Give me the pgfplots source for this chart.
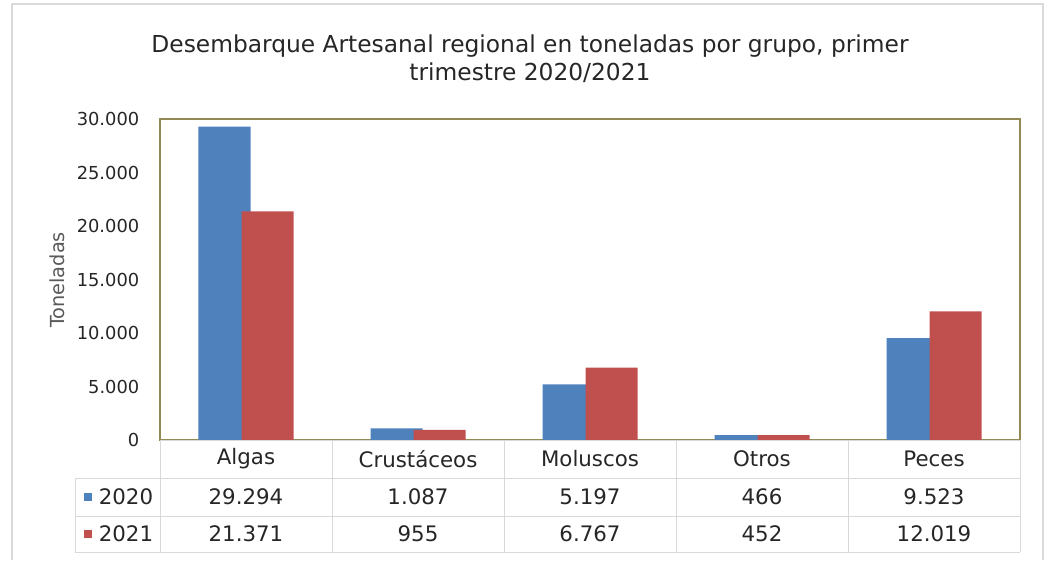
\documentclass[border=0pt]{standalone}
\usepackage{pgfplots}
\pgfplotsset{compat=1.18}
\usepackage{fontspec}
\setmainfont{DejaVu Sans}
\definecolor{c2020}{HTML}{4F81BD}
\definecolor{c2021}{HTML}{C0504D}
\definecolor{frameol}{HTML}{938953}
\definecolor{gridg}{HTML}{D9D9D9}
\definecolor{txt}{HTML}{262626}
\definecolor{lab}{HTML}{595959}

\begin{document}
\begin{tikzpicture}[x=0.75pt,y=0.75pt]
\begin{axis}[
  at={(0,0)}, anchor=south west,
  scale only axis, width=645pt, height=240.75pt,
  ybar=-6.75pt, bar width=39pt,
  xmin=-0.5, xmax=4.5, ymin=0, ymax=30000,
  xtick=\empty,
  ytick={0,5000,...,30000},
  scaled y ticks=false,
  /pgf/number format/assume math mode=true,
  yticklabel style={/pgf/number format/1000 sep={.}, font=\fontsize{13.4}{16}\selectfont, text=txt, xshift=-12pt},
  major tick length=0pt,
  axis line style={frameol, line width=1pt},
]
\addplot[fill=c2020, draw=none] coordinates {(0,29294) (1,1087) (2,5197) (3,466) (4,9523)};
\addplot[fill=c2021, draw=none] coordinates {(0,21371) (1,955) (2,6767) (3,452) (4,12019)};
\end{axis}
% data table under the plot
\draw[gridg] (0,0) -- (860,0);
\foreach \x in {0,172,344,516,688,860} \draw[gridg] (\x,0) -- (\x,-112);
\draw[gridg] (-85,-38) -- (-85,-112);
\foreach \y in {-38,-76,-112} \draw[gridg] (-85,\y) -- (860,\y);
\begin{scope}[every node/.style={font=\fontsize{16}{19}\selectfont, text=txt}]
\foreach \n [count=\i from 0] in {Algas,Crustáceos,Moluscos,Otros,Peces}
  \node at (86+172*\i,-19) {\n};
\foreach \n [count=\i from 0] in {29.294,1.087,5.197,466,9.523}
  \node at (86+172*\i,-57) {\n};
\foreach \n [count=\i from 0] in {21.371,955,6.767,452,12.019}
  \node at (86+172*\i,-94) {\n};
\node at (-34,-57) {2020};
\node at (-34,-94) {2021};
\end{scope}
\fill[c2020] (-76,-61) rectangle (-68,-53);
\fill[c2021] (-76,-98) rectangle (-68,-90);
% title and axis label
\node[align=center, font=\fontsize{17.5}{21}\selectfont, text=txt] at (370,381)
  {Desembarque Artesanal regional en toneladas por grupo, primer\\trimestre 2020/2021};
\node[rotate=90, font=\fontsize{14.5}{17}\selectfont, text=lab] at (-103,160) {Toneladas};
% outer frame
\draw[gridg, line width=1pt] (-148,-120) -- (-148,436) -- (883,436) -- (883,-120);
\pgfresetboundingbox
\path (-160,-120) rectangle (892,440);
\end{tikzpicture}
\end{document}
